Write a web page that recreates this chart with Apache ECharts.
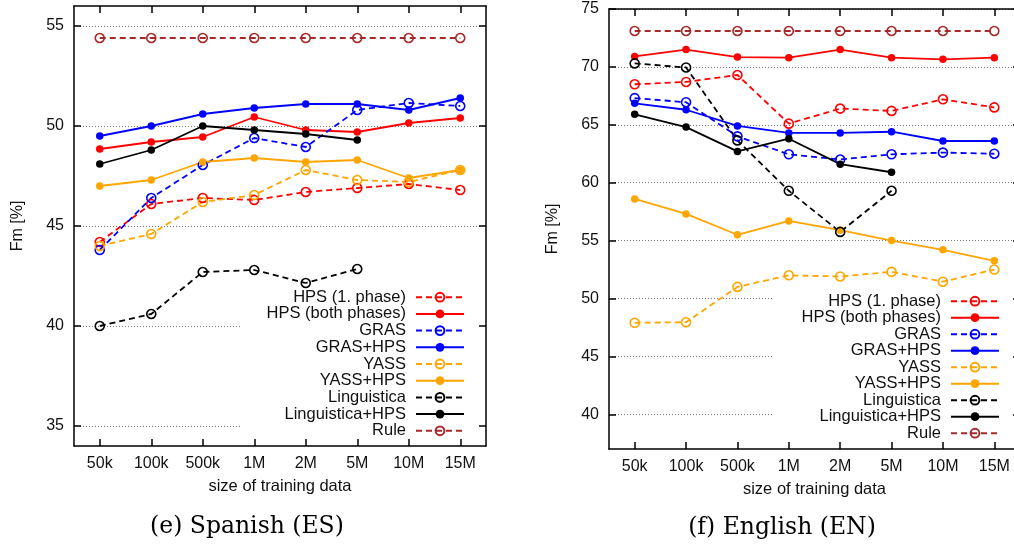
<!DOCTYPE html>
<html>
<head>
<meta charset="utf-8">
<script src="https://cdn.jsdelivr.net/npm/echarts@6/dist/echarts.min.js"></script>
<style>
  html, body { margin: 0; padding: 0; background: #ffffff; }
  #chart { width: 1014px; height: 547px; }
</style>
</head>
<body>
<div id="chart"></div>
<script>
// Training data sizes (x categories)
const categories = ['50k', '100k', '500k', '1M', '2M', '5M', '10M', '15M'];

// Method names, in legend order
const methodNames = ['HPS (1. phase)', 'HPS (both phases)', 'GRAS', 'GRAS+HPS', 'YASS', 'YASS+HPS', 'Linguistica', 'Linguistica+HPS', 'Rule'];

// Spanish (ES) – Fm [%]
const esHps1     = [44.2, 46.1, 46.4, 46.3, 46.7, 46.9, 47.1, 46.8];
const esHpsBoth  = [48.85, 49.2, 49.45, 50.45, 49.8, 49.7, 50.15, 50.4];
const esGras     = [43.8, 46.4, 48.05, 49.4, 48.95, 50.8, 51.15, 51.0];
const esGrasHps  = [49.5, 50.0, 50.6, 50.9, 51.1, 51.1, 50.8, 51.4];
const esYass     = [44.0, 44.6, 46.2, 46.55, 47.8, 47.3, 47.2, 47.8];
const esYassHps  = [47.0, 47.3, 48.2, 48.4, 48.2, 48.3, 47.4, 47.8];
const esLing     = [40.0, 40.6, 42.7, 42.8, 42.15, 42.85];
const esLingHps  = [48.1, 48.8, 50.0, 49.8, 49.6, 49.3];
const esRule     = [54.4, 54.4, 54.4, 54.4, 54.4, 54.4, 54.4, 54.4];

// English (EN) – Fm [%]
const enHps1     = [68.5, 68.7, 69.3, 65.1, 66.4, 66.2, 67.2, 66.5];
const enHpsBoth  = [70.9, 71.5, 70.85, 70.8, 71.5, 70.8, 70.65, 70.8];
const enGras     = [67.3, 66.95, 64.0, 62.45, 62.0, 62.45, 62.6, 62.5];
const enGrasHps  = [66.85, 66.3, 64.9, 64.3, 64.3, 64.4, 63.6, 63.6];
const enYass     = [47.9, 47.95, 51.0, 52.0, 51.9, 52.3, 51.45, 52.5];
const enYassHps  = [58.6, 57.3, 55.5, 56.7, 55.9, 55.0, 54.2, 53.25];
const enLing     = [70.3, 69.95, 63.65, 59.3, 55.75, 59.3];
const enLingHps  = [65.9, 64.8, 62.7, 63.8, 61.6, 60.9];
const enRule     = [73.1, 73.1, 73.1, 73.1, 73.1, 73.1, 73.1, 73.1];

// Y tick labels of each panel
const esYTicks = [35, 40, 45, 50, 55];
const enYTicks = [40, 45, 50, 55, 60, 65, 70, 75];

const esValues = [esHps1, esHpsBoth, esGras, esGrasHps, esYass, esYassHps, esLing, esLingHps, esRule];
const enValues = [enHps1, enHpsBoth, enGras, enGrasHps, enYass, enYassHps, enLing, enLingHps, enRule];

// Look of each method: colour, dashed line, hollow marker
const looks = {
  'HPS (1. phase)':    { color: '#ff0000', dashed: true,  open: true },
  'HPS (both phases)': { color: '#ff0000', dashed: false, open: false },
  'GRAS':              { color: '#0000ff', dashed: true,  open: true },
  'GRAS+HPS':          { color: '#0000ff', dashed: false, open: false },
  'YASS':              { color: '#ffa500', dashed: true,  open: true },
  'YASS+HPS':          { color: '#ffa500', dashed: false, open: false },
  'Linguistica':       { color: '#000000', dashed: true,  open: true },
  'Linguistica+HPS':   { color: '#000000', dashed: false, open: false },
  'Rule':              { color: '#a52a2a', dashed: true,  open: true }
};

const SANS = 'Liberation Sans, Arial, sans-serif';
const SERIF = 'DejaVu Serif, serif';
const INK = '#111111';

function borderLine() {
  return { show: true, onZero: false, lineStyle: { color: '#000', width: 1.5 } };
}
// ticks pointing into the plot, on all four sides
function inTick(extra) {
  return Object.assign({ show: true, inside: true, length: 7, lineStyle: { color: '#000', width: 1.5 } }, extra || {});
}

function xAxesFor(gridIndex) {
  return [
    {
      type: 'category', gridIndex, data: categories, position: 'bottom', boundaryGap: true, z: 3,
      axisLine: borderLine(),
      axisTick: inTick({ alignWithLabel: true, interval: 0 }),
      axisLabel: { interval: 0, margin: 10, color: INK, fontFamily: SANS, fontSize: 16 },
      splitLine: { show: false },
      name: 'size of training data', nameLocation: 'middle', nameGap: 32,
      nameTextStyle: { color: INK, fontFamily: SANS, fontSize: 16.5 }
    },
    {
      type: 'category', gridIndex, data: categories, position: 'top', boundaryGap: true, z: 3,
      axisLine: borderLine(),
      axisTick: inTick({ alignWithLabel: true, interval: 0 }),
      axisLabel: { show: false },
      splitLine: { show: false }
    }
  ];
}

function yAxesFor(gridIndex, min, max, ticks) {
  return [
    {
      type: 'value', gridIndex, min, max, position: 'left',
      axisLine: borderLine(),
      axisTick: inTick({ customValues: ticks }),
      axisLabel: { customValues: ticks, margin: 10, color: INK, fontFamily: SANS, fontSize: 16 },
      splitLine: { show: true, lineStyle: { color: '#777', width: 1, type: [1, 2] } },
      name: 'Fm [%]', nameLocation: 'middle', nameRotate: 90, nameGap: 48,
      nameTextStyle: { color: INK, fontFamily: SANS, fontSize: 16 }
    },
    {
      type: 'value', gridIndex, min, max, position: 'right', z: 3,
      axisLine: borderLine(),
      axisTick: inTick({ customValues: ticks }),
      axisLabel: { show: false },
      splitLine: { show: false }
    }
  ];
}

function seriesFor(values, xAxisIndex, yAxisIndex) {
  return methodNames.map((name, i) => {
    const lk = looks[name];
    return {
      type: 'line', name, data: values[i], xAxisIndex, yAxisIndex,
      symbol: 'circle', symbolSize: lk.open ? 9 : 7.5,
      lineStyle: { color: lk.color, width: 1.8, type: lk.dashed ? [6, 4] : 'solid' },
      itemStyle: lk.open
        ? { color: 'rgba(255,255,255,0)', borderColor: lk.color, borderWidth: 1.6 }
        : { color: lk.color, borderWidth: 0 },
      emphasis: { disabled: true },
      silent: true, z: 2
    };
  });
}

function legendAt(right, top, gap) {
  return {
    orient: 'vertical', align: 'right', right, top, padding: 0,
    itemWidth: 48, itemHeight: 11, itemGap: gap, selectedMode: false,
    data: methodNames,
    textStyle: { color: INK, fontFamily: SANS, fontSize: 16.5, lineHeight: 16, padding: [0, 5, 0, 0] }
  };
}

const chart = echarts.init(document.getElementById('chart'), null, { renderer: 'canvas' });

chart.setOption({
  animation: false,
  backgroundColor: '#ffffff',
  grid: [
    { left: 74, top: 6, width: 412, height: 440, containLabel: false, outerBoundsMode: 'none' },
    { left: 609, top: 9, width: 411, height: 440, containLabel: false, outerBoundsMode: 'none' }
  ],
  xAxis: [...xAxesFor(0), ...xAxesFor(1)],
  yAxis: [...yAxesFor(0, 34, 56, esYTicks), ...yAxesFor(1, 37, 75, enYTicks)],
  legend: [legendAt(549, 288.7, -0.3), legendAt(14, 292.7, -0.5)],
  graphic: [
    // opaque key boxes over the grid lines
    { type: 'rect', z: 1, silent: true, shape: { x: 240, y: 288, width: 245, height: 157 }, style: { fill: '#ffffff' } },
    { type: 'rect', z: 1, silent: true, shape: { x: 773, y: 291, width: 260, height: 157 }, style: { fill: '#ffffff' } },
    // panel captions
    { type: 'text', x: 247, y: 527, silent: true,
      style: { text: '(e) Spanish (ES)', font: '23.5px ' + SERIF, fill: '#000', textAlign: 'center', textVerticalAlign: 'middle' } },
    { type: 'text', x: 782, y: 528, silent: true,
      style: { text: '(f) English (EN)', font: '23.5px ' + SERIF, fill: '#000', textAlign: 'center', textVerticalAlign: 'middle' } }
  ],
  series: [...seriesFor(esValues, 0, 0), ...seriesFor(enValues, 2, 2)]
});
</script>
</body>
</html>
